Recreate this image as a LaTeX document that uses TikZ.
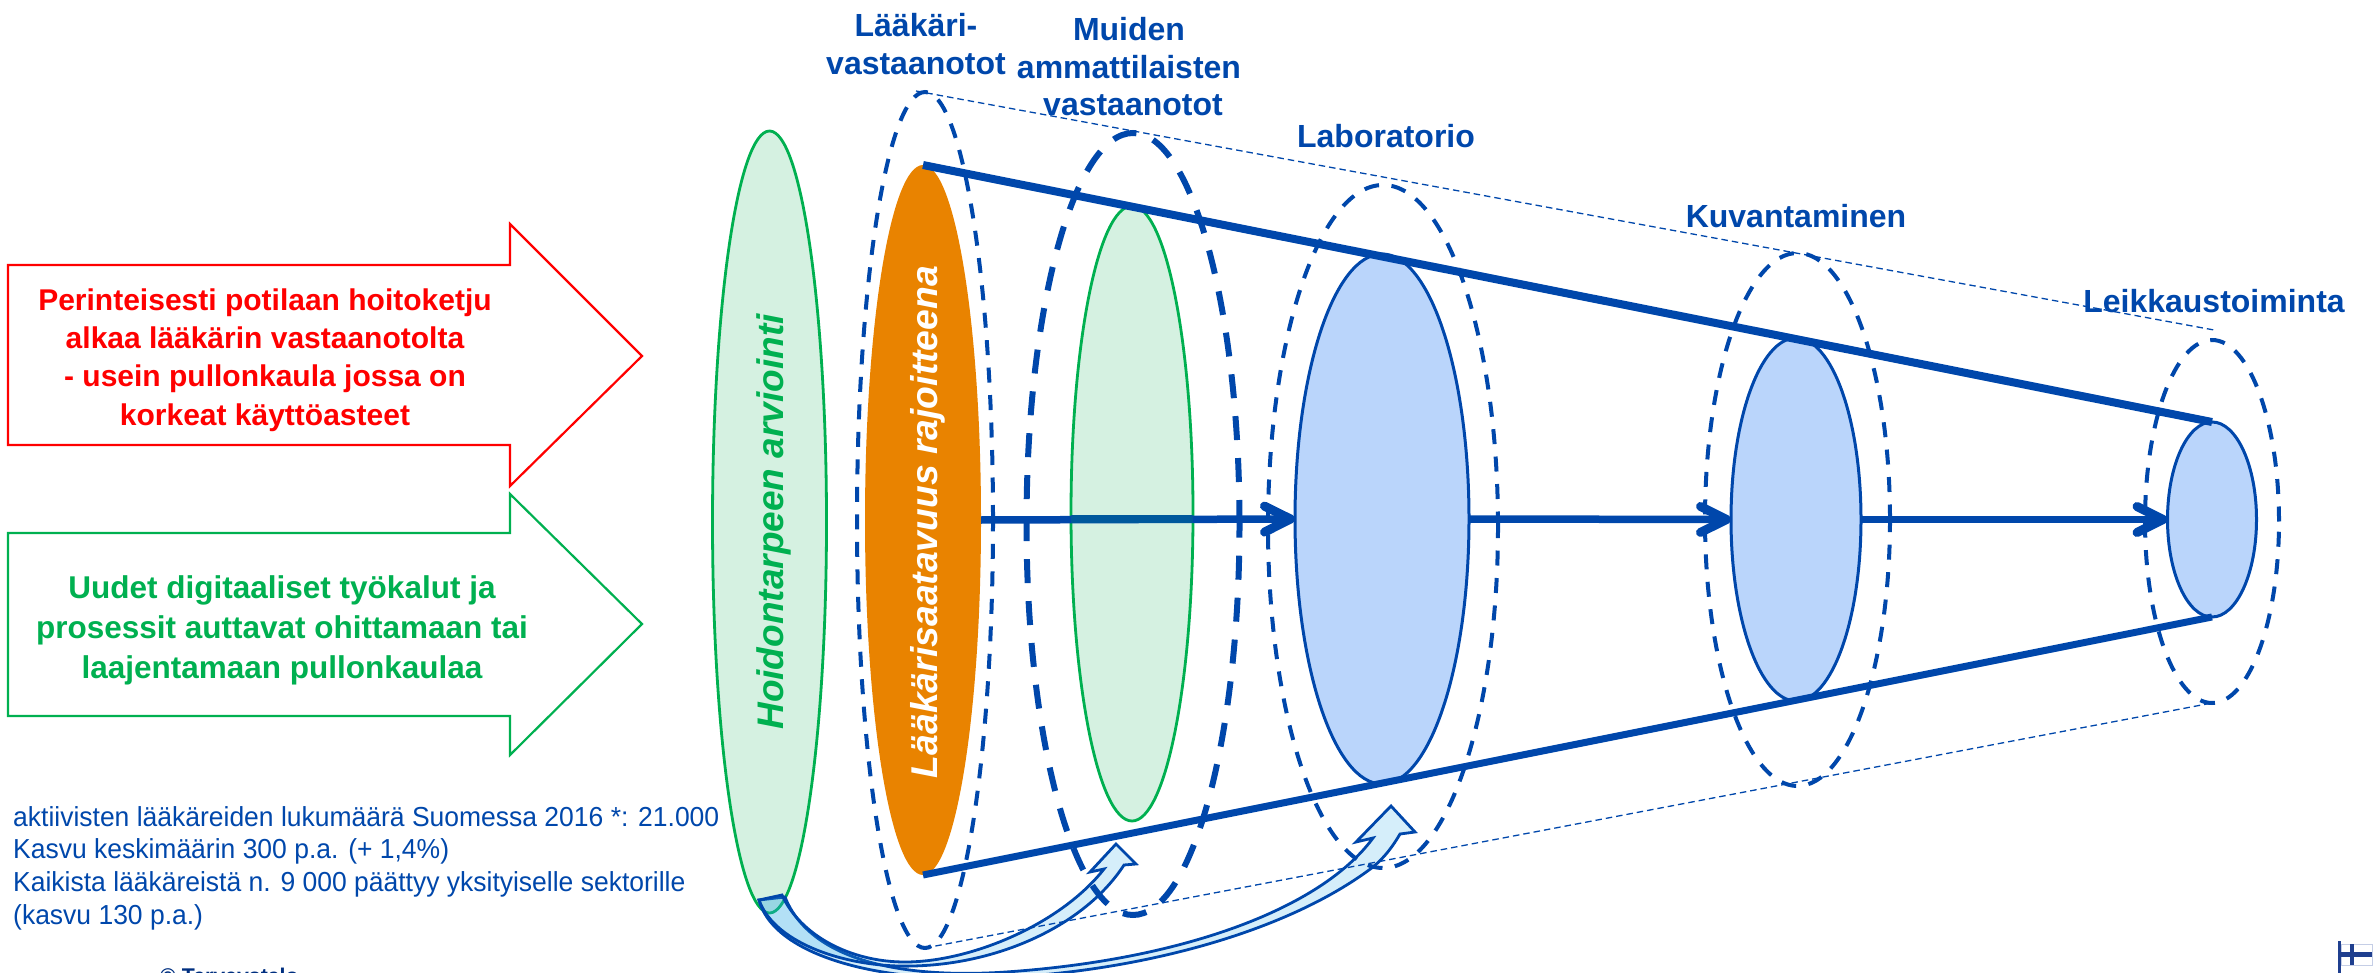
\documentclass[tikz,border=0pt]{standalone}
\usepackage{fontspec}
\setmainfont{Liberation Sans}
\newfontfamily\notefont[FakeStretch=0.963]{Liberation Sans}
\usetikzlibrary{shapes.geometric,arrows.meta}
\definecolor{dkblue}{HTML}{0047AB}
\definecolor{okgreen}{HTML}{00B050}
\definecolor{softgreen}{HTML}{D5F1E1}
\definecolor{softblue}{HTML}{BAD5FB}
\definecolor{orangefill}{HTML}{E98300}
\definecolor{curvefill}{HTML}{2DAAE6}
\definecolor{flagblue}{HTML}{1F3F8F}
\definecolor{flagedge}{HTML}{C5CEE6}
\definecolor{brandblue}{HTML}{002F80}
\definecolor{flowovergreen}{HTML}{00589C}
\newcommand{\fpx}[2]{\fontsize{#1}{#2}\selectfont}
\tikzset{
  oval/.style={ellipse,inner sep=0pt,outer sep=0pt},
  greenoval/.style={oval,draw=okgreen,fill=softgreen,line width=2.8pt},
  blueoval/.style={oval,draw=dkblue,fill=softblue,line width=3pt},
  dashoval/.style={oval,draw=dkblue,line width=4pt,dash pattern=on 15pt off 12.5pt},
  thickdash/.style={oval,draw=dkblue,line width=6pt,dash pattern=on 24pt off 18pt},
  frustum/.style={draw=dkblue,line width=8pt},
  guide/.style={draw=dkblue,line width=1.3pt,dash pattern=on 6.5pt off 4pt},
  flow/.style={draw=dkblue,line width=7.5pt,-{Straight Barb[length=26pt,width=26pt,line width=9pt,round]}},
  curved/.style={draw=dkblue,line width=2.8pt,line join=miter,fill=curvefill,fill opacity=.2},
  notearrow/.style={line width=2.2pt,line join=miter},
  stage/.style={text=dkblue,font=\bfseries\fpx{32}{38.5},align=center,inner sep=0pt,anchor=south},
  callout/.style={font=\bfseries\fpx{30}{38.3},align=center,inner sep=0pt}
}
\begin{document}
\begin{tikzpicture}[x=1pt,y=-1pt]
\useasboundingbox (0,0) rectangle (2374,973);
\clip (0,0) rectangle (2374,973);

% left callout arrows
\draw[notearrow,draw=red] (8,265) -- (510,265) -- (510,224) -- (642,356) -- (510,486) -- (510,445) -- (8,445) -- cycle;
\node[callout,text=red] (redtext) at (265,360) {Perinteisesti potilaan hoitoketju\\alkaa lääkärin vastaanotolta\\- usein pullonkaula jossa on\\korkeat käyttöasteet};
\draw[notearrow,draw=okgreen] (8,533) -- (510,533) -- (510,494) -- (642,624) -- (510,755) -- (510,716) -- (8,716) -- cycle;
\node[callout,text=okgreen,font=\bfseries\fpx{31.5}{40}] (greentext) at (282,630) {Uudet digitaaliset työkalut ja\\prosessit auttavat ohittamaan tai\\laajentamaan pullonkaulaa};

% solid ovals
\node[greenoval,minimum width=114pt,minimum height=782pt] (assess) at (769.5,522) {};
\node[oval,fill=orangefill,minimum width=116pt,minimum height=710pt] (doctor) at (923,520) {};
\node[greenoval,minimum width=122pt,minimum height=615pt] (others) at (1132,513.5) {};
\node[blueoval,minimum width=174pt,minimum height=530pt] (lab) at (1382,519) {};
\node[blueoval,minimum width=130pt,minimum height=363pt] (imaging) at (1796,519.5) {};
\node[blueoval,minimum width=89pt,minimum height=195pt] (surgery) at (2212,519.5) {};

% rotated labels
\node[rotate=90,anchor=base,inner sep=0pt,text=okgreen,font=\bfseries\itshape\fpx{37}{44}] (assesslabel) at (783,522) {Hoidontarpeen arviointi};
\node[rotate=90,anchor=base,inner sep=0pt,text=white,font=\bfseries\itshape\fpx{37.3}{42}] (doctorlabel) at (937,522) {Lääkärisaatavuus rajoitteena};

% curved arrows
\draw[curved] (759,900) .. controls (772,950) and (860,978) .. (960,978)
  .. controls (1090,980) and (1270,945) .. (1373,867)
  .. controls (1385,857) and (1393,846) .. (1400,834)
  -- (1415,832) -- (1391,806) -- (1356,842) -- (1373,838)
  .. controls (1320,910) and (1180,960) .. (1006,972)
  .. controls (900,979) and (810,960) .. (785,897) -- cycle;
\draw[curved] (759,900) .. controls (775,945) and (850,968) .. (913,966)
  .. controls (1000,964) and (1085,925) .. (1124,865)
  -- (1136,864) -- (1116,844) -- (1090,872) -- (1104,869)
  .. controls (1060,925) and (970,962) .. (905,962)
  .. controls (850,962) and (800,935) .. (782,895) -- cycle;

% dashed ovals
\node[dashoval,minimum width=136pt,minimum height=856pt] (doctorring) at (925,520) {};
\node[thickdash,minimum width=213pt,minimum height=782pt] (othersring) at (1133,524) {};
\node[dashoval,minimum width=230pt,minimum height=683pt] (labring) at (1383,526.5) {};
\node[dashoval,minimum width=185pt,minimum height=533pt] (imagingring) at (1797.5,519.5) {};
\node[dashoval,minimum width=134pt,minimum height=363pt] (surgeryring) at (2212,521.5) {};

% guides and funnel
\coordinate (guidetopa) at (916,91);
\coordinate (guidetopb) at (2214,330);
\draw[guide] (guidetopa) -- (guidetopb);
\draw[guide] (doctorring.south) -- (surgeryring.south);
\draw[frustum] (doctor.north) -- (surgery.north);
\draw[frustum,line width=7pt] (doctor.south) -- (surgery.south);

% flow arrows
\draw[flow] (doctor.east) -- (lab.west);
\draw[draw=flowovergreen,line width=7.5pt] (others.west |- lab.west) -- (others.east |- lab.west);
\draw[flow] (lab.east) -- (imaging.west);
\draw[flow] (imaging.east) -- (surgery.west);

% stage labels
\node[stage] (stagea) at (916,75.5) {Lääkäri-\\vastaanotot};
\node[stage] (stageb) at (1129,116) {Muiden\\ammattilaisten\\[-2pt]\hspace*{8pt}vastaanotot};
\node[stage] (stagec) at (1386,148.5) {Laboratorio};
\node[stage] (staged) at (1796,228.5) {Kuvantaminen};
\node[stage] (stagee) at (2214,313.5) {Leikkaustoiminta};

% note
\node[anchor=south west,inner sep=0pt,align=left,text=dkblue,font=\notefont\fpx{27.5}{32.6}] (note) at (13,930) {aktiivisten lääkäreiden lukumäärä Suomessa 2016 *: 21.000\\Kasvu keskimäärin 300 p.a. (+ 1,4\%)\\Kaikista lääkäreistä n. 9 000 päättyy yksityiselle sektorille\\(kasvu 130 p.a.)};
\node[anchor=base west,inner sep=0pt,text=brandblue,font=\bfseries\fpx{21.3}{25}] (brand) at (160,983) {© Terveystalo};

% flag
\draw[flagedge,line width=1pt] (2341,944) rectangle (2372,965);
\fill[flagblue] (2341,952) rectangle (2372,957);
\fill[flagblue] (2350,944) rectangle (2354,965);
\fill[flagblue] (2338,941) rectangle (2341,973);
\end{tikzpicture}
\end{document}
